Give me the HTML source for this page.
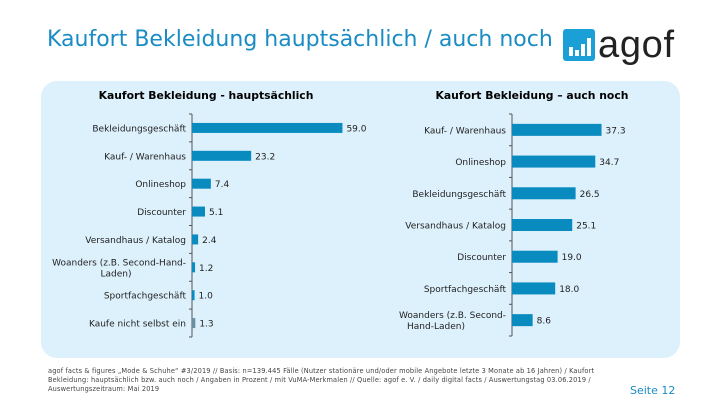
<!DOCTYPE html>
<html><head><meta charset="utf-8"><style>
body{margin:0;width:720px;height:405px;background:#fff;font-family:"DejaVu Sans",sans-serif;position:relative;overflow:hidden}
#title{position:absolute;left:47px;top:27px;font-size:22px;color:#1a8cc4;white-space:nowrap}
#panel{position:absolute;left:41px;top:81px;width:639px;height:277px;background:#ddf1fc;border-radius:16px}
#foot{position:absolute;left:48px;top:367px;font-size:6.6px;letter-spacing:0.15px;line-height:9px;color:#444;width:575px}
#page{position:absolute;left:630px;top:384px;font-size:11px;color:#1a8cc4}
svg{position:absolute;left:0;top:0}
</style></head><body>
<div id="title">Kaufort Bekleidung hauptsächlich / auch noch</div>
<div id="panel"></div>
<svg width="720" height="405" id="chart">
<g>
<rect x="563" y="29" width="32" height="32" rx="3" fill="#1a9fd6"/>
<rect x="569" y="47" width="4" height="9" fill="#fff"/><rect x="575" y="50" width="4" height="6" fill="#fff"/><rect x="581" y="44" width="4" height="12" fill="#fff"/><rect x="587" y="38" width="4" height="18" fill="#fff"/>
<text x="598" y="57" font-size="38" fill="#222" font-family="Liberation Sans, sans-serif" textLength="76">agof</text>
</g>
<text x="206" y="99" font-size="10.8" font-weight="bold" text-anchor="middle">Kaufort Bekleidung - hauptsächlich</text>
<text x="532" y="99" font-size="10.8" font-weight="bold" text-anchor="middle">Kaufort Bekleidung – auch noch</text>
</svg>
<div id="foot">agof facts &amp; figures „Mode &amp; Schuhe“ #3/2019 // Basis: n=139.445 Fälle (Nutzer stationäre und/oder mobile Angebote letzte 3 Monate ab 16 Jahren) / Kaufort Bekleidung: hauptsächlich bzw. auch noch / Angaben in Prozent / mit VuMA-Merkmalen // Quelle: agof e. V. / daily digital facts / Auswertungstag 03.06.2019 / Auswertungszeitraum: Mai 2019</div>
<div id="page">Seite 12</div>
<script>
const leftCats=[["Bekleidungsgeschäft"],["Kauf- / Warenhaus"],["Onlineshop"],["Discounter"],["Versandhaus / Katalog"],["Woanders (z.B. Second-Hand-","Laden)"],["Sportfachgeschäft"],["Kaufe nicht selbst ein"]];
const leftVals=[59.0,23.2,7.4,5.1,2.4,1.2,1.0,1.3];
const rightCats=[["Kauf- / Warenhaus"],["Onlineshop"],["Bekleidungsgeschäft"],["Versandhaus / Katalog"],["Discounter"],["Sportfachgeschäft"],["Woanders (z.B. Second-","Hand-Laden)"]];
const rightVals=[37.3,34.7,26.5,25.1,19.0,18.0,8.6];
const NS="http://www.w3.org/2000/svg";
const svg=document.getElementById('chart');
function mk(t,a){const e=document.createElementNS(NS,t);for(const k in a)e.setAttribute(k,a[k]);svg.appendChild(e);return e;}
function draw(cats,vals,ax,top,bottom,scale,bh,prefix,colors){
  const n=cats.length,step=(bottom-top)/n;
  const xs=v=>ax+v*scale, yc=i=>top+step*(i+0.5);
  const axis=mk('line',{x1:ax,y1:top,x2:ax,y2:bottom,stroke:'#555','stroke-width':1});
  
  
  for(let i=0;i<=n;i++){mk('line',{x1:ax-3,y1:top+step*i,x2:ax,y2:top+step*i,stroke:'#555'});}
  vals.forEach((v,i)=>{
    const r=mk('rect',{x:ax,y:yc(i)-bh/2,width:Math.max(xs(v)-ax,1.5),height:bh,fill:colors?colors[i]:'#0a8bc0'});
    
    
    const t=mk('text',{x:xs(v)+4,y:yc(i)+3.5,'font-size':9,fill:'#222'});
    t.textContent=v.toFixed(1);
    
    
    const lines=cats[i];
    lines.forEach((s,j)=>{
      const l=mk('text',{x:ax-6,y:yc(i)+3.5+(j-(lines.length-1)/2)*11,'font-size':9,'text-anchor':lines.length>1&&j>0?'middle':'end',fill:'#222'});
      if(lines.length>1&&j>0)l.setAttribute('x',ax-6-70);
      l.textContent=s;
      
      
    });
  });
}
draw(leftCats,leftVals,192,114,337,2.55,10,'left',['#0a8bc0','#0a8bc0','#0a8bc0','#0a8bc0','#0a8bc0','#0a8bc0','#0a8bc0','#6b8ea0']);
draw(rightCats,rightVals,512,114,336,2.4,12,'right',null);
</script>
</body></html>
